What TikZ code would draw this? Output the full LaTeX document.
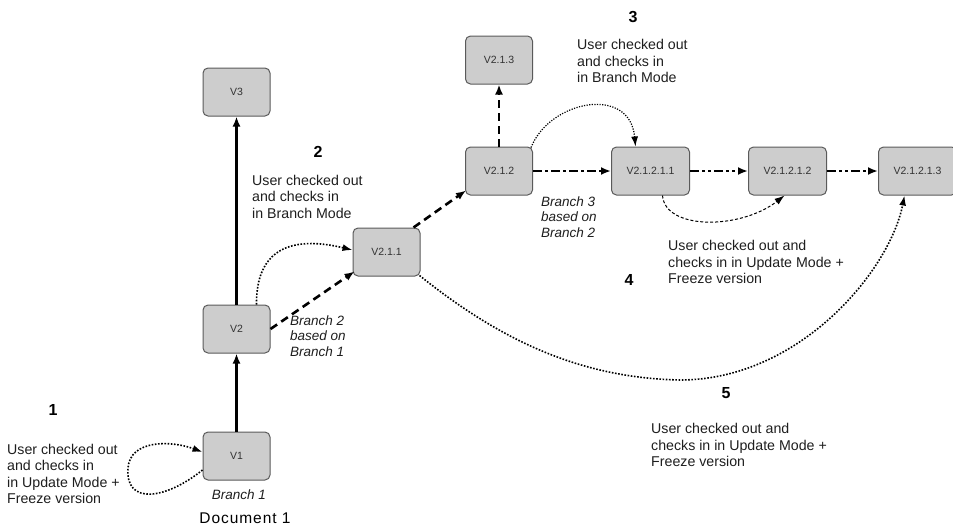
\documentclass[tikz,border=0pt]{standalone}
\usepackage{fontspec}
\setmainfont{Liberation Sans}
\usepackage{tikz}
\usetikzlibrary{arrows.meta, positioning}
\usepackage{xcolor}
\definecolor{verfill}{HTML}{CDCDCD}
\definecolor{verline}{HTML}{5A5A5A}
\definecolor{vertext}{HTML}{333333}
\definecolor{notetext}{HTML}{1E1E1E}

\begin{document}
\begin{tikzpicture}[x=1pt, y=-1pt,
    ver/.style={draw=verline, fill=verfill, line width=1pt, rounded corners=5pt,
                minimum width=67pt, minimum height=48pt, inner sep=2pt,
                font=\fontsize{10.5}{12}\selectfont, text=vertext},
    wide/.style={minimum width=78pt},
    note/.style={align=left, inner sep=0pt, anchor=west, text=notetext,
                 font=\fontsize{14.2}{16.5}\selectfont},
    brnote/.style={align=left, inner sep=0pt, anchor=west, text=notetext,
                   font=\fontsize{13.5}{15.5}\selectfont\itshape},
    num/.style={inner sep=0pt, font=\fontsize{16}{18}\selectfont\bfseries},
    arr/.style={-{Latex[length=10pt, width=8pt]}, line width=2.6pt},
    dasharr/.style={arr, dash pattern=on 8pt off 5pt},
    dotdash/.style={arr, dash pattern=on 9pt off 3pt on 3pt off 3pt},
    dotdotdash/.style={arr, dash pattern=on 9pt off 3pt on 3pt off 3pt on 3pt off 3pt},
    dotarr/.style={-{Latex[length=10pt, width=7pt]}, line width=1.6pt,
                   dash pattern=on 1.6pt off 1.6pt},
    thinarr/.style={-{Latex[length=10pt, width=7pt]}, line width=1pt,
                    dash pattern=on 3pt off 2pt}]
  \useasboundingbox (0,0) rectangle (953,528);

  % versions
  \node[ver] (v1) at (236.5,456) {V1};
  \node[ver, above=78pt of v1] (v2) {V2};
  \node[ver, above=188pt of v2] (v3) {V3};
  \node[ver] (v211) at (386.5,252) {V2.1.1};
  \node[ver] (v212) at (499,171) {V2.1.2};
  \node[ver, above=62pt of v212] (v213) {V2.1.3};
  \node[ver, wide, right=78pt of v212] (v21211) {V2.1.2.1.1};
  \node[ver, wide, right=58pt of v21211] (v21212) {V2.1.2.1.2};
  \node[ver, wide, right=51pt of v21212] (v21213) {V2.1.2.1.3};

  % branches
  \draw[arr] (v1) -- (v2);
  \draw[arr] (v2) -- (v3);
  \draw[dasharr] (v2.east) -- ([xshift=2pt,yshift=5pt]v211.south west);
  \draw[dasharr] ([xshift=-7pt]v211.north east) -- ([xshift=1pt,yshift=5pt]v212.south west);
  \draw[dasharr] (v212) -- (v213);
  \draw[dotdash] (v212) -- (v21211);
  \draw[dotdotdash] (v21211) -- (v21212);
  \draw[dotdotdash] (v21212) -- (v21213);

  % check out / check in
  \draw[dotarr] ([yshift=-14pt]v1.west) .. controls (165,500) and (125,505) .. (128,468)
                .. controls (130,440) and (170,440) .. ([yshift=4pt]v1.west);
  \draw[dotarr] ([xshift=20pt]v2.north) .. controls (256,250) and (290,235) .. ([yshift=2pt]v211.west);
  \draw[dotarr, line width=1.2pt, dash pattern=on 1.2pt off 1.4pt]
        ([xshift=-2pt,yshift=-1pt]v212.north east) .. controls (550,100) and (630,85) .. ([xshift=-15pt]v21211.north);
  \draw[thinarr] ([xshift=12pt]v21211.south) .. controls (665,230) and (740,230) .. ([xshift=-3pt]v21212.south);
  \draw[dotarr] ([xshift=-1pt,yshift=1pt]v211.south east) .. controls (500,340) and (580,378) .. (680,380)
                .. controls (800,380) and (890,270) .. ([xshift=-13pt]v21213.south);

  % notes
  \node[num] (n1) at (53,410) {1};
  \node[note] (t1) at (7,474) {User checked out\\and checks in\\in Update Mode +\\Freeze version};
  \node[brnote, anchor=center] (b1) at (239,495) {Branch 1};
  \node[inner sep=0pt, font=\fontsize{15.5}{18}\selectfont\addfontfeature{LetterSpace=6}] (doc) at (245,518) {Document 1};
  \node[num] (n2) at (318,152) {2};
  \node[note] (t2) at (252,196.5) {User checked out\\and checks in\\in Branch Mode};
  \node[brnote] (b2) at (290,336) {Branch 2\\based on\\Branch 1};
  \node[num] (n3) at (633,17) {3};
  \node[note] (t3) at (577,61) {User checked out\\and checks in\\in Branch Mode};
  \node[brnote] (b3) at (541,217) {Branch 3\\based on\\Branch 2};
  \node[num] (n4) at (629,280) {4};
  \node[note] (t4) at (668,262) {User checked out and\\checks in in Update Mode +\\Freeze version};
  \node[num] (n5) at (726,393) {5};
  \node[note] (t5) at (651,445) {User checked out and\\checks in in Update Mode +\\Freeze version};
\end{tikzpicture}
\end{document}
